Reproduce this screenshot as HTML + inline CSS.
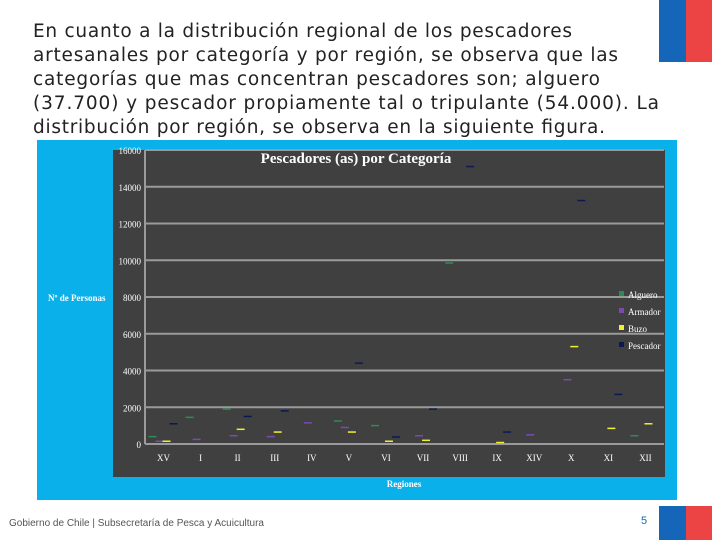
<!DOCTYPE html>
<html><head><meta charset="utf-8"><style>
body{margin:0;width:720px;height:540px;background:#fff;position:relative;overflow:hidden;font-family:"Liberation Sans",sans-serif}
</style></head><body>
<div style="position:absolute;left:659px;top:0;width:27px;height:62px;background:#1565b8"></div>
<div style="position:absolute;left:686px;top:0;width:26px;height:62px;background:#ec4444"></div>
<div style="position:absolute;left:659px;top:506px;width:27px;height:34px;background:#1565b8"></div>
<div style="position:absolute;left:686px;top:506px;width:26px;height:34px;background:#ec4444"></div>
<svg width="720" height="140" style="position:absolute;left:0;top:0" font-family="DejaVu Sans, sans-serif" font-size="18.5" fill="#222">
<text x="33" y="37" textLength="539" lengthAdjust="spacing">En cuanto a la distribución regional de los pescadores</text>
<text x="33" y="61" textLength="585" lengthAdjust="spacing">artesanales por categoría y por región, se observa que las</text>
<text x="33" y="85" textLength="567" lengthAdjust="spacing">categorías que mas concentran pescadores son; alguero</text>
<text x="33" y="109" textLength="626" lengthAdjust="spacing">(37.700) y pescador propiamente tal o tripulante (54.000). La</text>
<text x="33" y="133" textLength="572" lengthAdjust="spacing">distribución por región, se observa en la siguiente figura.</text>
</svg>
<div style="position:absolute;left:9px;top:518px;font-size:10px;color:#555">Gobierno de Chile | Subsecretaría de Pesca y Acuicultura</div>
<div style="position:absolute;left:641px;top:515px;font-size:11px;color:#1565b8">5</div>
<svg id="chart" width="720" height="540" style="position:absolute;left:0;top:0" font-family="Liberation Serif, serif">
<rect x="37" y="140" width="640" height="360" fill="#0ab0ea"/>
<rect x="113" y="150" width="552" height="327" fill="#404040"/>
<g id="grid"></g><g id="marks"></g>
<text x="356" y="163" text-anchor="middle" font-size="15" font-weight="bold" fill="#fff">Pescadores (as) por Categoría</text>
<text x="48" y="301" font-size="9" font-weight="bold" fill="#fff">Nº de Personas</text>
<text x="404" y="487" text-anchor="middle" font-size="9" font-weight="bold" fill="#fff">Regiones</text>
<g id="legend"></g>
</svg>
<script>
const categories=["XV","I","II","III","IV","V","VI","VII","VIII","IX","XIV","X","XI","XII"];
const seriesNames=["Alguero","Armador","Buzo","Pescador"];
const alguero=[400,1450,1900,0,0,1250,1000,0,9850,0,0,0,0,450];
const armador=[150,250,450,400,1150,900,0,450,0,0,500,3500,0,0];
const buzo=[150,0,800,650,0,650,150,200,0,80,0,5300,850,1100];
const pescador=[1100,0,1500,1800,0,4400,380,1900,15100,650,0,13250,2700,0];
const yTicks=[0,2000,4000,6000,8000,10000,12000,14000,16000];
const NS="http://www.w3.org/2000/svg";
const x0=145,bw=37.07,y0=444,yMax=16000,ph=294;
const yS=v=>y0-v/yMax*ph, xS=i=>x0+bw*(i+0.5);
const colors=["#2e8b57","#7a4ab0","#f0f030","#0a1a50"];
const offs=[-11,-4,3,10];
function mk(t,a){const e=document.createElementNS(NS,t);for(const k in a)e.setAttribute(k,a[k]);return e;}
const grid=document.getElementById('grid');
yTicks.forEach(v=>{
 const l=mk('line',{x1:x0,x2:664,y1:yS(v),y2:yS(v),stroke:'#9a9a9a','stroke-width':2});
 
 
 grid.appendChild(l);
 const t=mk('text',{x:141,y:yS(v)+4,'text-anchor':'end','font-size':9,fill:'#fff'});t.textContent=v;
 
 
 grid.appendChild(t);
});
const ax=mk('line',{x1:x0,x2:x0,y1:150,y2:y0,stroke:'#9a9a9a','stroke-width':2});


grid.appendChild(ax);
categories.forEach((c,i)=>{
 const t=mk('text',{x:xS(i),y:461,'text-anchor':'middle','font-size':9,fill:'#fff'});t.textContent=c;
 
 
 grid.appendChild(t);
});
const marks=document.getElementById('marks');
[alguero,armador,buzo,pescador].forEach((s,si)=>{
 s.forEach((v,i)=>{
  if(v<=0)return;
  const l=mk('line',{x1:xS(i)+offs[si]-4,x2:xS(i)+offs[si]+4,y1:yS(v),y2:yS(v),stroke:colors[si],'stroke-width':1.5});
  
  
  marks.appendChild(l);
 });
});
const lg=document.getElementById('legend');
seriesNames.forEach((n,i)=>{
 const y=295+i*17;
 const r=mk('rect',{x:619,y:y-4,width:5,height:5,fill:colors[i]});
 
 
 lg.appendChild(r);
 const t=mk('text',{x:628,y:y+3,'font-size':9,fill:'#fff'});t.textContent=n;
 
 
 lg.appendChild(t);
});
</script>
</body></html>
